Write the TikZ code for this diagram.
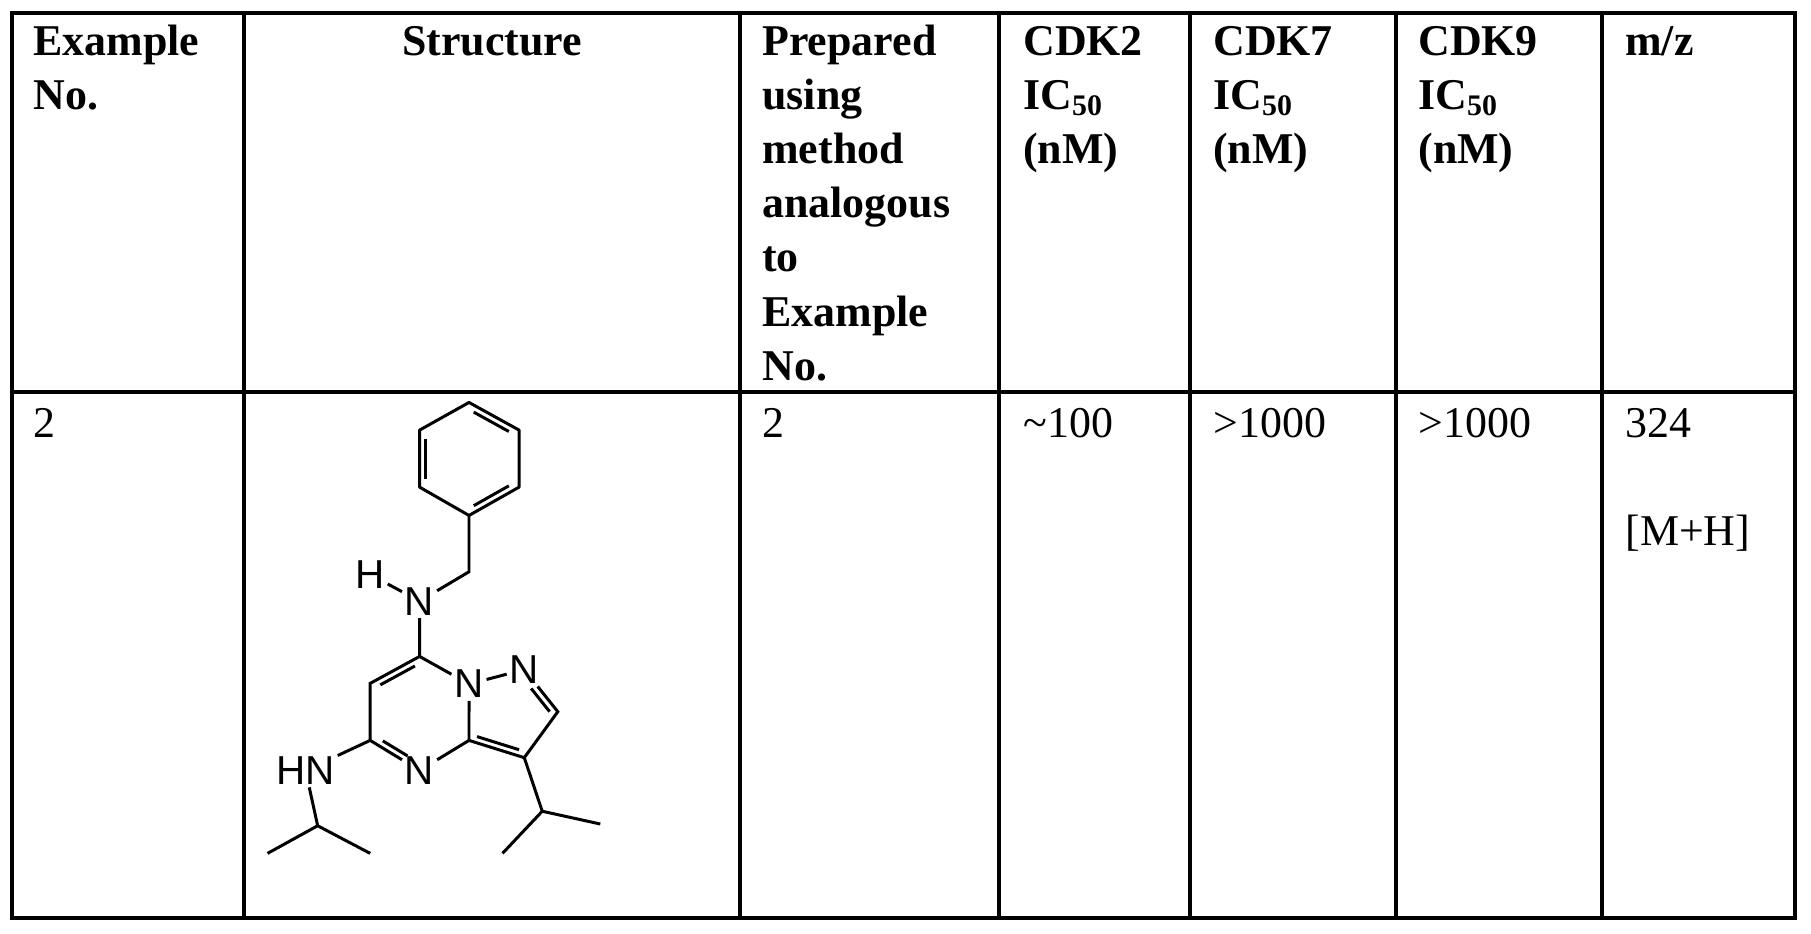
\documentclass[tikz,border=0pt]{standalone}
\usepackage{fontspec}
\setmainfont{Liberation Serif}
\newfontfamily\atomfont{Liberation Sans}
\usetikzlibrary{calc}
\begin{document}
\begin{tikzpicture}[x=0.02cm,y=-0.02cm,
  hdr/.style={anchor=base west,inner sep=0,font=\fontsize{25}{30}\selectfont\bfseries},
  cell/.style={anchor=base west,inner sep=0,font=\fontsize{25}{30}\selectfont},
  grid/.style={line width=2.1pt},
  bond/.style={line width=1.7pt},
  atom/.style={inner sep=1.5pt,font=\atomfont\fontsize{23}{23}\selectfont}]
\useasboundingbox (0,0) rectangle (1811,933);
\newcommand{\sub}[1]{\raisebox{-0.3ex}{\fontsize{17}{17}\selectfont #1}}
% grid
\draw[grid] (12,13) rectangle (1795,918);
\draw[grid] (12,392) -- (1795,392);
\foreach \x in {244,740,999,1190,1396,1602} \draw[grid] (\x,13) -- (\x,918);
% headers
\node[hdr] at (33,55) {Example};
\node[hdr] at (33,109) {No.};
\node[hdr,anchor=base] at (492,55) {Structure};
\foreach \t [count=\i from 0] in {Prepared,using,method,analogous,to,Example,No.}
  \node[hdr] at (762,55+54.2*\i) {\t};
\foreach \x/\n in {1023/2,1213/7,1418/9}{
  \node[hdr] at (\x,55) {CDK\n};
  \node[hdr] at (\x,109) {IC\sub{50}};
  \node[hdr] at (\x,163) {(nM)};
}
\node[hdr] at (1625,55) {m/z};
% row
\node[cell] at (33,437) {2};
\node[cell] at (762,437) {2};
\node[cell] at (1023,437) {\textasciitilde100};
\node[cell] at (1213,437) {\textgreater1000};
\node[cell] at (1418,437) {\textgreater1000};
\node[cell] at (1625,437) {324};
\node[cell] at (1625,545) {[M+H]};
% structure
\begin{scope}[shift={(233,380)},scale=0.3455]
\coordinate (b1) at (683,65);
\coordinate (b2) at (828,145);
\coordinate (b3) at (828,310);
\coordinate (b4) at (683,392);
\coordinate (b5) at (540,310);
\coordinate (b6) at (540,145);
\coordinate (ch2) at (683,555);
\node[atom] (na) at (540,640) {N};
\node[atom] (h) at (397,563) {H};
\coordinate (c7) at (540,800);
\coordinate (c6) at (397,878);
\coordinate (c5) at (397,1043);
\node[atom] (n4) at (540,1130) {N};
\coordinate (c3a) at (683,1043);
\node[atom] (n1) at (683,880) {N};
\node[atom] (n2) at (843,838) {N};
\coordinate (c2) at (940,960);
\coordinate (c3) at (843,1093);
\node[atom] (hn) at (210,1130) {HN};
\coordinate (ip1) at (245,1290);
\coordinate (m1) at (100,1370);
\coordinate (m2) at (397,1370);
\coordinate (ip2) at (895,1248);
\coordinate (m3) at (780,1370);
\coordinate (m4) at (1063,1285);
\draw[bond,line join=round] (b1)--(b2)--(b3)--(b4)--(b5)--(b6)--cycle;
\draw[bond] ($(b1)!0.15!(b2)+(-8,16)$) -- ($(b1)!0.85!(b2)+(-8,16)$);
\draw[bond] ($(b3)!0.15!(b4)+(-8,-16)$) -- ($(b3)!0.85!(b4)+(-8,-16)$);
\draw[bond] ($(b5)!0.15!(b6)+(18,0)$) -- ($(b5)!0.85!(b6)+(18,0)$);
\draw[bond] (b4) -- (ch2) -- (na);
\draw[bond] (h) -- (na);
\draw[bond] (na) -- (c7);
\draw[bond] (c7) -- (c6) -- (c5) -- (n4) -- (c3a) -- (n1) -- (c7);
\draw[bond] (n1) -- (n2) -- (c2) -- (c3) -- (c3a);
\draw[bond] ($(c7)!0.15!(c6)+(8,16)$) -- ($(c7)!0.85!(c6)+(8,16)$);
\draw[bond] ($(c5)!0.2!(n4)+(8,-16)$) -- ($(c5)!0.7!(n4)+(8,-16)$);
\draw[bond] ($(c3a)!0.12!(c3)+(4,-17)$) -- ($(c3a)!0.88!(c3)+(4,-17)$);
\draw[bond] ($(n2)!0.35!(c2)+(-14,12)$) -- ($(n2)!0.9!(c2)+(-14,12)$);
\draw[bond] (c5) -- (hn);
\draw[bond] (hn) -- (ip1);
\draw[bond] (m1) -- (ip1) -- (m2);
\draw[bond] (c3) -- (ip2);
\draw[bond] (m3) -- (ip2) -- (m4);
\end{scope}
\end{tikzpicture}
\end{document}
